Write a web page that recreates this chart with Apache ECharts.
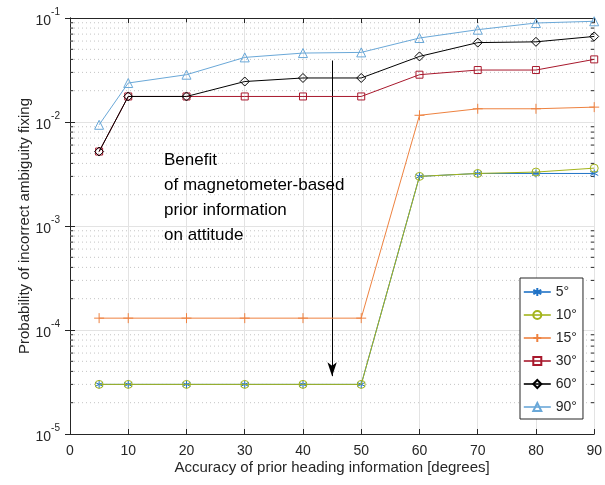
<!DOCTYPE html>
<html>
<head>
<meta charset="utf-8">
<script src="https://cdn.jsdelivr.net/npm/echarts@6/dist/echarts.min.js"></script>
<style>
  html, body { margin: 0; padding: 0; background: #fff; }
  #chart { width: 605px; height: 485px; }
</style>
</head>
<body>
<div id="chart"></div>
<script>
// prior heading accuracy [deg]
const headingAcc = [5, 10, 20, 30, 40, 50, 60, 70, 80, 90]
const xTicks = [0, 10, 20, 30, 40, 50, 60, 70, 80, 90]
const yTicks = [1e-5, 1e-4, 1e-3, 1e-2, 1e-1]

// probability of incorrect ambiguity fixing, one array per setting
const p5 = [3e-5, 3e-5, 3e-5, 3e-5, 3e-5, 3e-5, 3.0e-3, 3.2e-3, 3.2e-3, 3.2e-3]
const p10 = [3e-5, 3e-5, 3e-5, 3e-5, 3e-5, 3e-5, 3.0e-3, 3.2e-3, 3.3e-3, 3.6e-3]
const p15 = [1.3e-4, 1.3e-4, 1.3e-4, 1.3e-4, 1.3e-4, 1.3e-4, 1.16e-2, 1.34e-2, 1.34e-2, 1.39e-2]
const p30 = [5.2e-3, 1.76e-2, 1.76e-2, 1.76e-2, 1.76e-2, 1.76e-2, 2.85e-2, 3.16e-2, 3.16e-2, 4.0e-2]
const p60 = [5.2e-3, 1.76e-2, 1.76e-2, 2.45e-2, 2.65e-2, 2.65e-2, 4.27e-2, 5.8e-2, 5.9e-2, 6.65e-2]
const p90 = [9.4e-3, 2.37e-2, 2.85e-2, 4.18e-2, 4.6e-2, 4.67e-2, 6.42e-2, 7.72e-2, 8.95e-2, 9.3e-2]

const seriesNames = ['5°', '10°', '15°', '30°', '60°', '90°']
const seriesData = [p5, p10, p15, p30, p60, p90]

// annotation arrow (data coords) and text
const arrowFrom = [45, 0.039]
const arrowTo = [45, 3.6e-5]
const noteLines = ['Benefit', 'of magnetometer-based', 'prior information', 'on attitude']

const FONT = '"Liberation Sans", Arial, Helvetica, sans-serif'
const INK = '#262626'

const colors = ['#1f72c6', '#a3b41b', '#ee8240', '#a8182c', '#000000', '#6aa8d8']
const asterisk = 'path://M0,-5L0,5M-4.3,-2.5L4.3,2.5M-4.3,2.5L4.3,-2.5'
const plus = 'path://M0,-5L0,5M-5,0L5,0'
const symbols = [asterisk, 'circle', plus, 'rect', 'diamond', 'triangle']
const symbolSizes = [8, 8, 10, 7, 9, 9]

// minor decade values (2..9 x 10^d) for the dotted grid + inner ticks
const minorVals = []
for (let d = -5; d <= -2; d++) {
  for (let k = 2; k <= 9; k++) minorVals.push(k * Math.pow(10, d))
}

// segments separated by '-' so one series draws many short lines
const segments = (x0, x1) => minorVals.flatMap(v => [[x0, v], [x1, v], '-'])

const lineSeries = seriesNames.map((name, i) => ({
  name,
  type: 'line',
  data: headingAcc.map((x, j) => [x, seriesData[i][j]]),
  symbol: symbols[i],
  symbolSize: symbolSizes[i],
  showAllSymbol: true,
  lineStyle: { color: colors[i], width: 1 },
  itemStyle: { color: 'rgba(0,0,0,0)', borderColor: colors[i], borderWidth: 1 },
  emphasis: { disabled: true },
  z: 3 + i
}))

const helper = (name, data, lineStyle, z) => ({
  name,
  type: 'line',
  data,
  silent: true,
  showSymbol: false,
  symbol: 'none',
  connectNulls: false,
  lineStyle,
  emphasis: { disabled: true },
  tooltip: { show: false },
  z
})

const minorGrid = helper('minor', segments(0, 90), { color: '#c4c4c4', type: [1, 3], width: 1 }, 1)
const leftTicks = helper('lticks', segments(0, 0.55), { color: INK, width: 1 }, 2)
const rightTicks = helper('rticks', segments(89.45, 90), { color: INK, width: 1 }, 2)

const arrow = {
  name: 'arrow',
  type: 'line',
  data: [],
  silent: true,
  z: 10,
  markLine: {
    silent: true,
    symbol: ['none', 'arrow'],
    symbolSize: [7, 14],
    label: { show: false },
    lineStyle: { color: '#000', type: 'solid', width: 1 },
    itemStyle: { color: '#000' },
    data: [[{ coord: arrowFrom }, { coord: arrowTo }]]
  }
}

const logLabel = v => '{b|10}{s|' + Math.round(Math.log10(v)) + '}'

const chart = echarts.init(document.getElementById('chart'))
chart.setOption({
  animation: false,
  backgroundColor: '#fff',
  textStyle: { fontFamily: FONT },
  grid: { left: 70, right: 7, top: 18, bottom: 51 },
  xAxis: [
    {
      type: 'value',
      min: 0,
      max: 90,
      interval: 10,
      name: 'Accuracy of prior heading information [degrees]',
      nameLocation: 'middle',
      nameGap: 26,
      nameMoveOverlap: false,
      nameTextStyle: { color: INK, fontSize: 15, fontFamily: FONT },
      axisLine: { lineStyle: { color: INK, width: 1 } },
      axisTick: { inside: true, length: 5, lineStyle: { color: INK } },
      axisLabel: { color: INK, fontSize: 14, margin: 10, fontFamily: FONT,
        customValues: xTicks },
      splitLine: { show: true, lineStyle: { color: '#e3e3e3', width: 1 } }
    },
    {
      type: 'value',
      position: 'top',
      min: 0,
      max: 90,
      interval: 10,
      axisLine: { show: true, lineStyle: { color: INK, width: 1 } },
      axisTick: { show: true, inside: true, length: 5, lineStyle: { color: INK } },
      axisLabel: { show: false },
      splitLine: { show: false }
    }
  ],
  yAxis: [
    {
      type: 'log',
      logBase: 10,
      min: yTicks[0],
      max: yTicks[yTicks.length - 1],
      name: 'Probability of incorrect ambiguity fixing',
      nameLocation: 'middle',
      nameGap: 38,
      nameMoveOverlap: false,
      nameTextStyle: { color: INK, fontSize: 15, fontFamily: FONT },
      axisLine: { show: true, lineStyle: { color: INK, width: 1 } },
      axisTick: { show: true, inside: true, length: 5, lineStyle: { color: INK } },
      axisLabel: {
        color: INK,
        margin: 10,
        formatter: logLabel,
        rich: {
          b: { fontSize: 14, color: INK, fontFamily: FONT, verticalAlign: 'bottom', padding: [7, 0, 0, 0] },
          s: { fontSize: 10, color: INK, fontFamily: FONT, verticalAlign: 'top' }
        }
      },
      splitLine: { show: true, lineStyle: { color: '#e3e3e3', width: 1 } }
    },
    {
      type: 'log',
      logBase: 10,
      position: 'right',
      min: yTicks[0],
      max: yTicks[yTicks.length - 1],
      axisLine: { show: true, lineStyle: { color: INK, width: 1 } },
      axisTick: { show: true, inside: true, length: 5, lineStyle: { color: INK } },
      axisLabel: { show: false },
      splitLine: { show: false }
    }
  ],
  legend: {
    orient: 'vertical',
    left: 520,
    top: 278,
    data: seriesNames,
    backgroundColor: '#fff',
    borderColor: INK,
    borderWidth: 1,
    borderRadius: 0,
    padding: [7, 6, 5, 3],
    itemWidth: 27,
    itemHeight: 10,
    itemGap: 9,
    selectedMode: false,
    lineStyle: { width: 1.6 },
    textStyle: { color: INK, fontSize: 14, fontFamily: FONT }
  },
  graphic: [
    {
      type: 'text',
      left: 164,
      top: 148,
      z: 20,
      style: {
        text: noteLines.join('\n'),
        font: '17px ' + FONT,
        fill: '#000',
        lineHeight: 25
      }
    }
  ],
  series: [minorGrid, leftTicks, rightTicks, ...lineSeries, arrow]
})
</script>
</body>
</html>
